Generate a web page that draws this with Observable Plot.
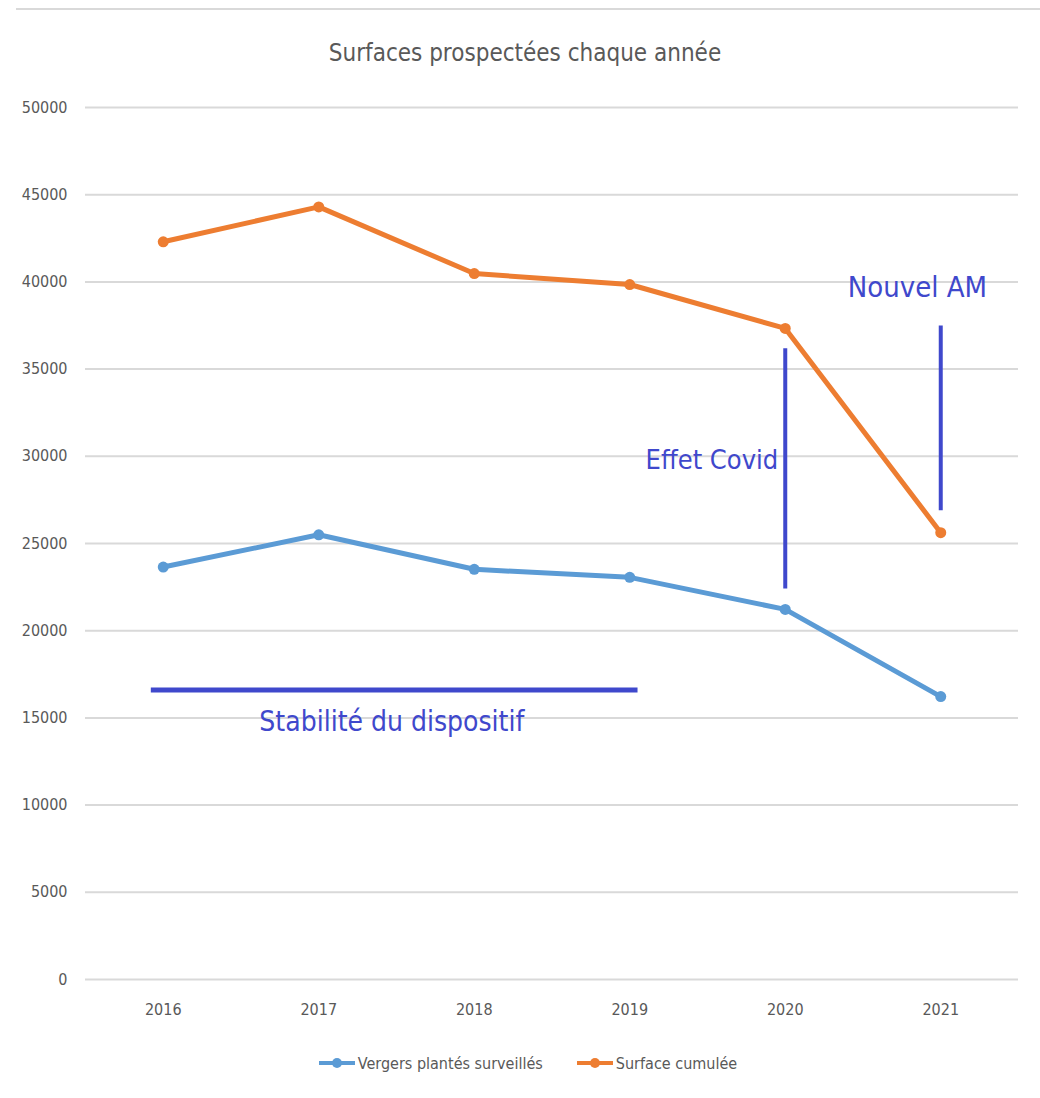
<!DOCTYPE html>
<html><head><meta charset="utf-8">
<script src="https://cdn.jsdelivr.net/npm/d3@7"></script>
<script src="https://cdn.jsdelivr.net/npm/@observablehq/plot@0.6"></script>
<style>
  body { margin:0; background:#fff; font-family:"Liberation Sans Narrow","DejaVu Sans Condensed",sans-serif; }
  #wrap { position:relative; width:1040px; height:1098px; }
  #topline { position:absolute; left:16px; right:0; top:8px; height:0; border-top:2px solid #d9d9d9; }
  #title { position:absolute; top:39px; left:0; width:1050px; text-align:center; font-size:24px; color:#595959; }
  #chart { position:absolute; top:85px; left:0; }
  #legend { position:absolute; top:1053px; left:0; width:1056px; display:flex; justify-content:center; gap:34px; font-size:16px; color:#595959; }
  .item { display:flex; align-items:center; gap:3px; }
  .sw { position:relative; width:36px; height:20px; }
  .sw .l { position:absolute; left:0; right:0; top:8px; height:4px; }
  .sw .d { position:absolute; left:13px; top:5px; width:10px; height:10px; border-radius:50%; }
</style></head>
<body>
<div id="wrap">
  <div id="topline"></div>
  <div id="title">Surfaces prospectées chaque année</div>
  <div id="chart"></div>
  <div id="legend"></div>
</div>
<script>
const years = [2016, 2017, 2018, 2019, 2020, 2021];
const vergers = [23650, 25500, 23520, 23060, 21220, 16220];
const surface = [42300, 44300, 40480, 39850, 37330, 25620];
const seriesNames = ["Vergers plantés surveillés", "Surface cumulée"];
const seriesColors = ["#5b9bd5", "#ed7d31"];
const yTicks = [0, 5000, 10000, 15000, 20000, 25000, 30000, 35000, 40000, 45000, 50000];

// annotations (data coordinates)
const hLines = [{x1: 2015.92, x2: 2019.05, y: 16600}];
const vLines = [{x: 2020, y1: 22420, y2: 36200}, {x: 2021, y1: 26900, y2: 37500}];
const noteStab = [{x: 2017.47, y: 14750, text: "Stabilité du dispositif"}];
const noteCovid = [{x: 2019.955, y: 29760, text: "Effet Covid"}];
const noteAM = [{x: 2020.85, y: 39650, text: "Nouvel AM"}];
const annColor = "#3f48cc";

const rows = [];
years.forEach((yr, i) => {
  rows.push({year: yr, value: vergers[i], series: seriesNames[0]});
  rows.push({year: yr, value: surface[i], series: seriesNames[1]});
});

const font = "'Liberation Sans Narrow','DejaVu Sans Condensed',sans-serif";
const chart = Plot.plot({
  width: 1040,
  height: 940,
  marginLeft: 85,
  marginRight: 22,
  marginTop: 22,
  marginBottom: 46,
  style: {fontFamily: font, fontSize: "16px", color: "#595959", background: "transparent"},
  x: {domain: [2015.5, 2021.5], ticks: years, tickFormat: d => String(d), tickSize: 0, tickPadding: 24, label: null},
  y: {domain: [0, 50000], ticks: yTicks, tickFormat: d => String(d), tickSize: 0, tickPadding: 18, label: null},
  color: {domain: seriesNames, range: seriesColors},
  marks: [
    Plot.gridY(yTicks, {stroke: "#d9d9d9", strokeOpacity: 1, strokeWidth: 2}),
    Plot.lineY(rows, {x: "year", y: "value", stroke: "series", strokeWidth: 5, strokeLinejoin: "round"}),
    Plot.dot(rows, {x: "year", y: "value", fill: "series", r: 5.5}),
    Plot.link(hLines, {x1: "x1", x2: "x2", y1: "y", y2: "y", stroke: annColor, strokeWidth: 5}),
    Plot.link(vLines, {x1: "x", x2: "x", y1: "y1", y2: "y2", stroke: annColor, strokeWidth: 4}),
    Plot.text(noteStab, {x: "x", y: "y", text: "text", textAnchor: "middle", fill: annColor, fontSize: 28, fontFamily: font}),
    Plot.text(noteCovid, {x: "x", y: "y", text: "text", textAnchor: "end", fill: annColor, fontSize: 27, fontFamily: font}),
    Plot.text(noteAM, {x: "x", y: "y", text: "text", textAnchor: "middle", fill: annColor, fontSize: 29, fontFamily: font})
  ]
});
document.getElementById("chart").appendChild(chart);

const legend = document.getElementById("legend");
seriesNames.forEach((name, i) => {
  const it = document.createElement("div");
  it.className = "item";
  it.innerHTML = `<div class="sw"><div class="l" style="background:${seriesColors[i]}"></div><div class="d" style="background:${seriesColors[i]}"></div></div><span>${name}</span>`;
  legend.appendChild(it);
});
</script>
</body></html>
